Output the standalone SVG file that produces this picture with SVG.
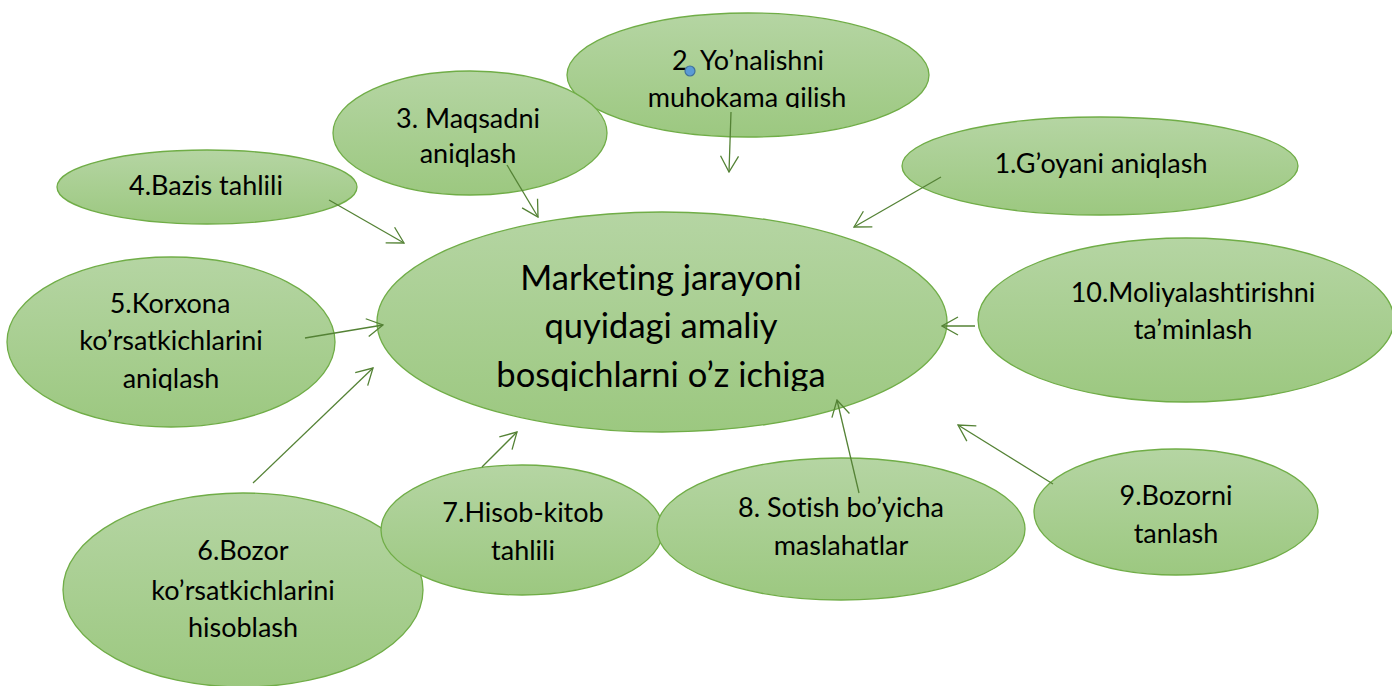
<svg xmlns="http://www.w3.org/2000/svg" width="1392" height="686" viewBox="0 0 1392 686">
<style>
.el{fill:url(#g);stroke:#70ad47;stroke-width:1.3}
.t{font-family:Lato,"Liberation Sans",sans-serif;font-size:27px;fill:#000;text-anchor:middle;font-variant-ligatures:none}
.tm{font-family:Lato,"Liberation Sans",sans-serif;font-size:34.5px;fill:#000;text-anchor:middle;font-variant-ligatures:none}
.c{stroke:#548235;stroke-width:1.3;fill:none;marker-end:url(#a)}
</style>
<defs>
<linearGradient id="g" x1="0" y1="0" x2="0" y2="1">
<stop offset="0" stop-color="#b5d5a3"/>
<stop offset="1" stop-color="#9cc880"/>
</linearGradient>
<marker id="a" markerUnits="userSpaceOnUse" viewBox="-1 -1 18 20" refX="16" refY="9" markerWidth="18" markerHeight="20" orient="auto">
<path d="M0,0 L16,9 L0,18" fill="none" stroke="#548235" stroke-width="1.3"/>
</marker>
<clipPath id="cl2"><rect x="560" y="0" width="380" height="108"/></clipPath>
<clipPath id="cl3"><rect x="330" y="60" width="280" height="107"/></clipPath>
<clipPath id="cl5"><rect x="0" y="250" width="340" height="141"/></clipPath>
<clipPath id="clm"><rect x="370" y="200" width="580" height="191"/></clipPath>
</defs>
<g id="node-2"><ellipse class="el" cx="748" cy="75" rx="181" ry="62"/>
<g clip-path="url(#cl2)"><text class="t" x="748" y="70">2. Yo’nalishni</text><text class="t" x="747" y="107">muhokama qilish</text></g>
<circle cx="690" cy="71" r="5" fill="#5b9bd5" stroke="#41719c" stroke-width="1.2"/></g>
<g id="node-3"><ellipse class="el" cx="470" cy="133" rx="137" ry="62"/>
<g clip-path="url(#cl3)"><text class="t" x="468" y="128">3. Maqsadni</text><text class="t" x="468" y="163">aniqlash</text></g></g>
<g id="node-4"><ellipse class="el" cx="207" cy="187" rx="150" ry="37"/>
<text class="t" x="206" y="195">4.Bazis tahlili</text></g>
<g id="node-1"><ellipse class="el" cx="1100" cy="166" rx="198" ry="49"/>
<text class="t" x="1101" y="173">1.G’oyani aniqlash</text></g>
<g id="node-main"><ellipse class="el" cx="662" cy="322" rx="285" ry="110"/>
<g clip-path="url(#clm)"><text class="tm" x="661" y="290">Marketing jarayoni</text><text class="tm" x="661" y="338">quyidagi amaliy</text><text class="tm" x="661" y="387">bosqichlarni o’z ichiga</text></g></g>
<g id="node-10"><ellipse class="el" cx="1186" cy="320" rx="208" ry="82"/>
<text class="t" x="1193" y="302">10.Moliyalashtirishni</text><text class="t" x="1193" y="339">ta’minlash</text></g>
<g id="node-5"><ellipse class="el" cx="171" cy="342" rx="164" ry="85"/>
<g clip-path="url(#cl5)"><text class="t" x="170" y="313">5.Korxona</text><text class="t" x="171" y="350">ko’rsatkichlarini</text><text class="t" x="171" y="388">aniqlash</text></g></g>
<g id="node-6"><ellipse class="el" cx="243" cy="590" rx="180" ry="97"/>
<text class="t" x="243" y="560">6.Bozor</text><text class="t" x="243" y="600">ko’rsatkichlarini</text><text class="t" x="243" y="637">hisoblash</text></g>
<g id="node-7"><ellipse class="el" cx="522" cy="530" rx="141" ry="65"/>
<text class="t" x="523" y="522">7.Hisob-kitob</text><text class="t" x="523" y="560">tahlili</text></g>
<g id="node-8"><ellipse class="el" cx="841" cy="529" rx="184" ry="71"/>
<text class="t" x="841" y="517">8. Sotish bo’yicha</text><text class="t" x="841" y="555">maslahatlar</text></g>
<g id="node-9"><ellipse class="el" cx="1176" cy="512" rx="142" ry="63"/>
<text class="t" x="1176" y="505">9.Bozorni</text><text class="t" x="1176" y="543">tanlash</text></g>
<g id="connectors">
<line class="c" x1="731" y1="112" x2="729" y2="172"/>
<line class="c" x1="507" y1="165" x2="538" y2="217"/>
<line class="c" x1="329" y1="200" x2="404" y2="243"/>
<line class="c" x1="941" y1="177" x2="854" y2="227"/>
<line class="c" x1="975" y1="326" x2="942" y2="326"/>
<line class="c" x1="305" y1="338" x2="383" y2="325"/>
<line class="c" x1="253" y1="483" x2="373" y2="368"/>
<line class="c" x1="482" y1="467" x2="517" y2="432"/>
<line class="c" x1="859" y1="493" x2="837" y2="400"/>
<line class="c" x1="1053" y1="484" x2="958" y2="425"/>
</g>
</svg>
